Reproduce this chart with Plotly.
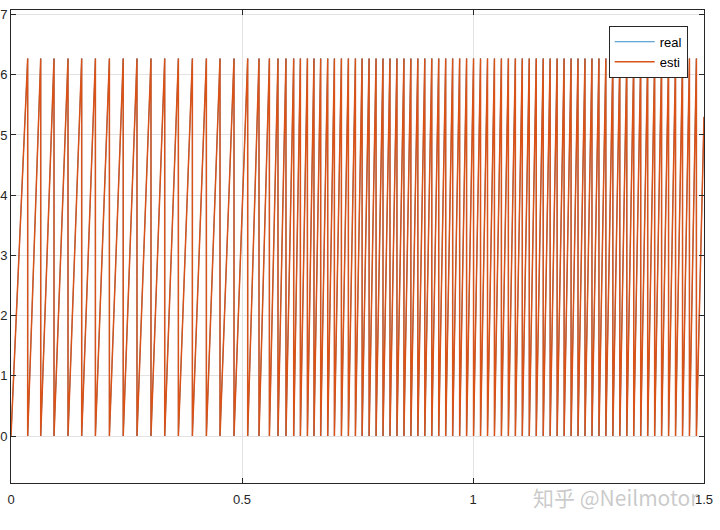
import plotly.graph_objects as go

# Times (s) at which the angle wraps from ~2*pi back to 0
wrap_times = [
    0.0361, 0.0643, 0.0931, 0.1234, 0.1530, 0.1827, 0.2130, 0.2429, 0.2727, 0.3030,
    0.3327, 0.3623, 0.3926, 0.4229, 0.4524, 0.4827, 0.5123, 0.5368, 0.5593, 0.5779,
    0.5952, 0.6119, 0.6264, 0.6416, 0.6558, 0.6703, 0.6855, 0.7000, 0.7152, 0.7303,
    0.7455, 0.7600, 0.7751, 0.7902, 0.8052, 0.8203, 0.8354, 0.8505, 0.8655, 0.8806,
    0.8957, 0.9108, 0.9258, 0.9409, 0.9560, 0.9711, 0.9861, 1.0012, 1.0163, 1.0314,
    1.0464, 1.0615, 1.0766, 1.0917, 1.1067, 1.1218, 1.1369, 1.1520, 1.1670, 1.1821,
    1.1972, 1.2123, 1.2273, 1.2424, 1.2575, 1.2726, 1.2876, 1.3027, 1.3178, 1.3329,
    1.3479, 1.3630, 1.3781, 1.3932, 1.4082, 1.4233, 1.4384, 1.4535, 1.4685, 1.4836,
]
peak_value = 6.27          # angle just before each wrap (rad)
start_point = (0.0, 0.0)
end_point = (1.5, 5.3)

x_ticks = [0, 0.5, 1, 1.5]
x_tick_labels = ["0", "0.5", "1", "1.5"]
y_ticks = [0, 1, 2, 3, 4, 5, 6, 7]
y_tick_labels = ["0", "1", "2", "3", "4", "5", "6", "7"]

# build polyline from read points
xs = [start_point[0]]
ys = [start_point[1]]
for t in wrap_times:
    xs += [t, t]
    ys += [peak_value, 0.0]
xs.append(end_point[0])
ys.append(end_point[1])

fig = go.Figure()
fig.add_trace(go.Scatter(x=xs, y=ys, mode="lines", name="real",
                         line=dict(color="#0072BD", width=0.8)))
fig.add_trace(go.Scatter(x=xs, y=ys, mode="lines", name="esti",
                         line=dict(color="#D95319", width=1.5)))

axis_common = dict(
    showline=True, linecolor="#262626", linewidth=1, mirror="allticks",
    ticks="inside", ticklen=5, tickcolor="#262626",
    showgrid=True, gridcolor="#e3e3e3", gridwidth=1,
    zeroline=False, automargin=False,
    tickfont=dict(family="Liberation Sans, Arial, sans-serif", size=13, color="#262626"),
)

fig.update_layout(
    width=720, height=530,
    margin=dict(l=11, r=16, t=10, b=47),
    paper_bgcolor="white", plot_bgcolor="white",
    showlegend=True,
    legend=dict(x=0.9765, y=0.9666, xanchor="right", yanchor="top",
                bgcolor="white", bordercolor="#262626", borderwidth=1,
                font=dict(family="Liberation Sans, Arial, sans-serif", size=13, color="#000000"),
                tracegroupgap=0, itemwidth=40),
    xaxis=dict(range=[0, 1.5], tickvals=x_ticks, ticktext=x_tick_labels, **axis_common),
    yaxis=dict(range=[-0.78, 7.075], tickvals=y_ticks, ticktext=y_tick_labels, **axis_common),
)
fig.update_xaxes(ticklabelstandoff=4)

fig.add_annotation(
    x=(616 - 11) / 693, y=1 - (497 - 10) / 473, xref="paper", yref="paper",
    xanchor="center", yanchor="middle",
    text="知乎 @Neilmotor", showarrow=False,
    font=dict(family="Noto Sans CJK SC, sans-serif", size=21, color="rgba(150,150,150,0.5)"),
)

fig.write_html("out.html", config={"displayModeBar": False},
               post_script="document.body.style.margin='0';document.body.style.overflow='hidden';")
